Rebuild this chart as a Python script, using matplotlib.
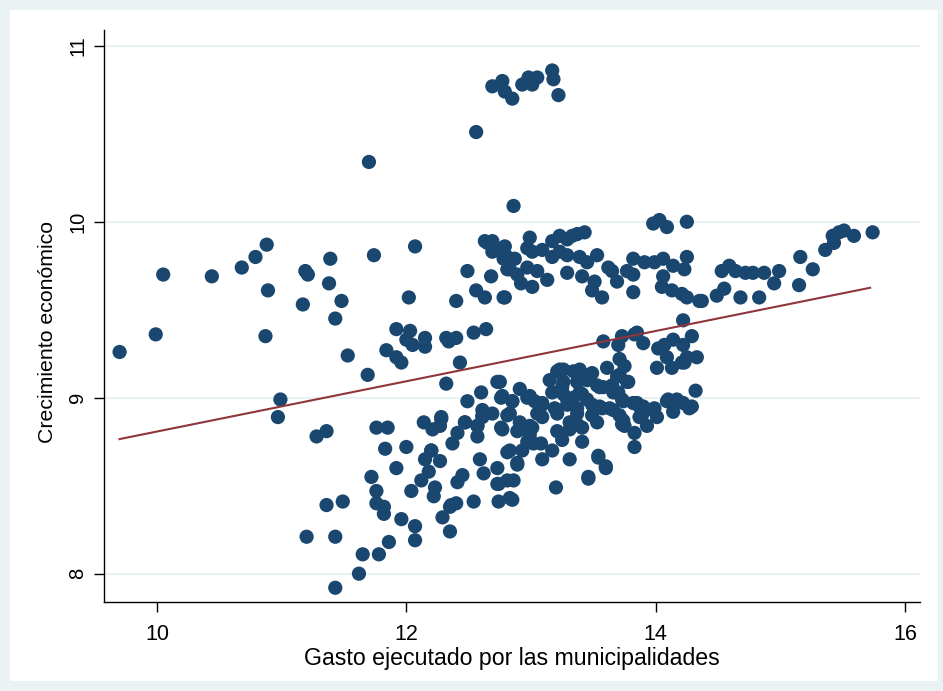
import numpy as np
import matplotlib
matplotlib.use("Agg")
import matplotlib.pyplot as plt

plt.rcParams["font.family"] = ["Liberation Sans", "DejaVu Sans"]

# Municipal spending (log) and economic growth (log)
gasto = [
    9.70, 9.99, 10.05, 10.44, 10.68, 10.79, 10.88, 10.89, 10.87, 10.99, 10.97,
    11.17, 11.19, 11.21, 11.20, 11.28, 11.36, 11.39, 11.38, 11.43, 11.48, 11.53,
    11.36, 11.49, 11.43, 11.43,
    11.70, 11.74, 11.69, 12.86, 12.56,
    12.69, 12.77, 12.79, 12.85, 12.93, 12.98, 13.01, 13.05, 13.17, 13.18, 13.22,
    11.76, 11.85, 12.14, 12.28, 12.21, 12.27, 12.47, 12.41, 12.37, 11.83, 12.00,
    12.20, 12.15, 12.27, 12.18, 12.12, 12.23, 12.22, 11.92, 11.72, 11.76, 11.76,
    11.82, 11.82, 12.04, 11.96, 12.07, 12.07, 11.86, 11.65, 11.78, 11.62,
    12.45, 12.41, 12.36, 12.40, 12.29, 12.35, 12.54, 12.59, 12.62, 12.73, 12.74,
    12.74, 12.81, 12.57, 12.61, 12.76,
    12.43, 12.32, 12.73, 12.91, 12.60, 12.49, 12.76, 12.85, 12.97, 12.61, 12.69,
    12.61, 12.81, 12.91, 12.99, 12.28, 12.47, 12.57, 12.77, 12.89, 12.57, 12.99,
    12.97, 12.83, 12.93, 12.20, 12.89, 12.81, 12.73, 12.85, 12.35,
    13.61, 13.71, 13.15, 13.21, 13.26, 13.34, 13.39, 13.49, 13.26, 13.37, 13.45,
    13.53, 13.58, 13.65, 13.71, 13.70, 13.17, 13.26, 13.34, 13.41, 13.03, 13.09,
    13.19, 13.29, 13.37, 13.49, 13.57, 13.63, 13.71, 13.09, 13.31, 13.37, 13.53,
    13.73, 13.01, 13.21, 13.31, 13.41, 13.25, 13.02, 13.08, 13.41, 13.17, 13.09,
    13.31, 13.54, 13.60, 13.46, 13.20,
    13.85, 13.90, 13.73, 13.78, 13.73, 13.85, 13.87, 13.99, 14.10, 14.17, 14.14,
    14.22, 14.27, 13.89, 13.93, 13.74, 13.75, 13.83, 13.83,
    12.79, 12.99, 12.97, 13.01, 13.09, 13.17, 13.23, 13.29, 13.33, 13.37, 13.43,
    12.81, 12.87, 12.83, 12.89, 12.92, 12.97, 13.05, 13.13, 13.01, 12.79, 13.17,
    13.23, 13.29, 13.39, 13.45, 13.53, 13.29, 13.41, 13.51, 13.49, 13.57, 13.62,
    13.65, 13.69, 13.77, 13.82, 13.82, 13.82, 13.91, 13.99, 14.06, 14.14, 14.23,
    14.25, 14.06, 14.05, 14.13, 14.21, 14.25, 14.35, 13.98, 14.09, 14.25, 14.03,
    14.22,
    12.63, 12.65, 12.69, 12.69, 12.78, 12.78, 12.81, 12.49, 12.56, 12.63, 12.68,
    12.78, 12.40, 12.02, 12.07,
    11.84, 11.92, 12.03, 12.00, 12.05, 12.15, 12.15, 11.92, 11.96, 12.32, 12.34,
    12.40, 12.54, 12.64,
    14.37, 14.49, 14.55, 14.53, 14.59, 14.64, 14.72, 14.78, 14.87, 14.68, 14.83,
    14.95, 14.99, 15.15, 15.16, 15.26, 15.36, 15.42, 15.43, 15.47, 15.51, 15.59,
    15.74,
    13.58, 13.70, 13.83, 14.02, 14.07, 14.14, 14.22, 14.29, 14.01, 14.09, 14.13,
    14.21, 14.25, 14.33, 13.75,
    12.75, 13.23, 13.37, 13.47, 13.69, 13.77, 13.25, 13.39, 13.55, 13.66, 13.82,
    13.90, 13.98, 14.09, 14.29, 12.77, 12.85, 12.99, 13.09, 13.29, 13.45, 13.55,
    13.66, 13.74, 12.83, 13.05, 13.21, 13.37, 13.49, 13.87, 14.01,
    12.89, 12.83, 12.86, 13.46, 13.60, 13.54, 14.23, 14.32,
]
crecimiento = [
    9.26, 9.36, 9.70, 9.69, 9.74, 9.80, 9.87, 9.61, 9.35, 8.99, 8.89,
    9.53, 9.72, 9.70, 8.21, 8.78, 8.81, 9.79, 9.65, 9.45, 9.55, 9.24,
    8.39, 8.41, 8.21, 7.92,
    10.34, 9.81, 9.13, 10.09, 10.51,
    10.77, 10.80, 10.74, 10.70, 10.78, 10.82, 10.78, 10.82, 10.86, 10.81, 10.72,
    8.83, 8.83, 8.86, 8.88, 8.82, 8.84, 8.86, 8.80, 8.74, 8.71, 8.72,
    8.70, 8.65, 8.64, 8.58, 8.53, 8.49, 8.44, 8.60, 8.55, 8.47, 8.40,
    8.38, 8.34, 8.47, 8.31, 8.27, 8.19, 8.18, 8.11, 8.11, 8.00,
    8.56, 8.52, 8.39, 8.40, 8.32, 8.24, 8.41, 8.65, 8.57, 8.60, 8.51,
    8.41, 8.69, 8.84, 8.90, 8.83,
    9.20, 9.08, 9.09, 9.05, 9.03, 8.98, 9.00, 8.98, 9.00, 8.93, 8.91,
    8.89, 8.90, 8.86, 8.84, 8.89, 8.86, 8.84, 8.82, 8.81, 8.78, 8.79,
    8.75, 8.70, 8.70, 8.70, 8.63, 8.53, 8.51, 8.42, 8.38,
    9.17, 9.22, 9.10, 9.15, 9.16, 9.15, 9.16, 9.14, 9.09, 9.09, 9.10,
    9.07, 9.06, 9.07, 9.13, 9.03, 9.03, 9.02, 9.00, 9.02, 8.98, 8.96,
    8.94, 8.96, 8.94, 8.96, 8.94, 8.94, 8.90, 8.89, 8.86, 8.85, 8.86,
    8.85, 8.83, 8.81, 8.82, 8.83, 8.76, 8.74, 8.74, 8.75, 8.70, 8.65,
    8.65, 8.67, 8.60, 8.55, 8.49,
    9.37, 9.31, 9.35, 9.09, 8.99, 8.97, 8.95, 8.94, 8.99, 8.99, 8.92,
    8.97, 8.94, 8.90, 8.84, 8.87, 8.84, 8.80, 8.72,
    9.86, 9.91, 9.85, 9.83, 9.84, 9.89, 9.92, 9.90, 9.92, 9.93, 9.94,
    9.80, 9.79, 9.73, 9.70, 9.65, 9.74, 9.72, 9.67, 9.63, 9.57, 9.80,
    9.83, 9.81, 9.80, 9.77, 9.81, 9.71, 9.69, 9.66, 9.61, 9.57, 9.74,
    9.72, 9.66, 9.72, 9.70, 9.60, 9.79, 9.77, 9.77, 9.79, 9.75, 9.73,
    9.80, 9.69, 9.63, 9.61, 9.59, 9.57, 9.55, 9.99, 9.97, 10.00, 10.01,
    9.44,
    9.89, 9.88, 9.83, 9.89, 9.85, 9.79, 9.73, 9.72, 9.61, 9.57, 9.69,
    9.57, 9.55, 9.57, 9.86,
    9.27, 9.39, 9.38, 9.33, 9.30, 9.34, 9.29, 9.23, 9.20, 9.34, 9.32,
    9.34, 9.37, 9.39,
    9.55, 9.58, 9.62, 9.72, 9.75, 9.72, 9.71, 9.71, 9.71, 9.57, 9.57,
    9.65, 9.72, 9.64, 9.80, 9.73, 9.84, 9.92, 9.88, 9.94, 9.95, 9.92,
    9.94,
    9.32, 9.30, 9.36, 9.28, 9.30, 9.33, 9.30, 9.35, 9.17, 9.23, 9.17,
    9.20, 9.23, 9.23, 9.18,
    9.09, 9.16, 9.14, 9.13, 9.12, 9.09, 9.06, 9.03, 9.06, 9.03, 8.97,
    8.95, 8.93, 8.98, 8.95, 9.01, 8.98, 9.01, 8.97, 8.99, 8.99, 8.95,
    8.93, 8.98, 8.91, 8.91, 8.91, 8.91, 8.90, 8.89, 8.89,
    8.62, 8.43, 8.53, 8.54, 8.61, 8.66, 9.20, 9.04,
]

# Linear fit line endpoints
fit_x = [9.70, 15.72]
fit_y = [8.765, 9.625]

x_ticks = [10, 12, 14, 16]
y_ticks = [8, 9, 10, 11]

W, H = 943, 691
fig = plt.figure(figsize=(W / 100, H / 100), dpi=100)
fig.patch.set_facecolor("#EAF2F3")

# white inner graph region
inner = matplotlib.patches.Rectangle((10 / W, 1 - 681 / H), 928 / W, 671 / H,
                                     transform=fig.transFigure, facecolor="white",
                                     edgecolor="none", zorder=-10)
fig.patches.append(inner)

ax = fig.add_axes([104 / W, 1 - 602 / H, (920 - 104) / W, (602 - 30) / H])
ax.set_zorder(1)
ax.set_facecolor("white")
ax.set_xlim(9.575, 16.12)
ax.set_ylim(7.839, 11.09)

for yt in y_ticks:
    ax.axhline(yt, color="#EAF2F3", lw=1.6, zorder=1)

ax.scatter(gasto, crecimiento, s=105, color="#1A476F", edgecolors="none",
           zorder=3)
ax.plot(fit_x, fit_y, color="#90353B", lw=1.5, zorder=4)

for side in ["top", "right"]:
    ax.spines[side].set_visible(False)
for side in ["left", "bottom"]:
    ax.spines[side].set_color("#000000")
    ax.spines[side].set_linewidth(1.0)

ax.set_xticks(x_ticks)
ax.set_yticks(y_ticks)
ax.tick_params(axis="both", direction="out", length=7, width=1.0,
               colors="black")
ax.tick_params(axis="x", pad=9, labelsize=15.5)
ax.tick_params(axis="y", pad=5, labelsize=14.5)
ax.set_yticklabels([str(t) for t in y_ticks], rotation=90, va="center")

ax.set_xlabel("Gasto ejecutado por las municipalidades", fontsize=16.7)
ax.xaxis.set_label_coords(0.5, -0.078)
ax.set_ylabel("Crecimiento económico", fontsize=15.3)
ax.yaxis.set_label_coords(-0.057, 0.472)

fig.savefig("out.png", dpi=100, facecolor=fig.get_facecolor())
